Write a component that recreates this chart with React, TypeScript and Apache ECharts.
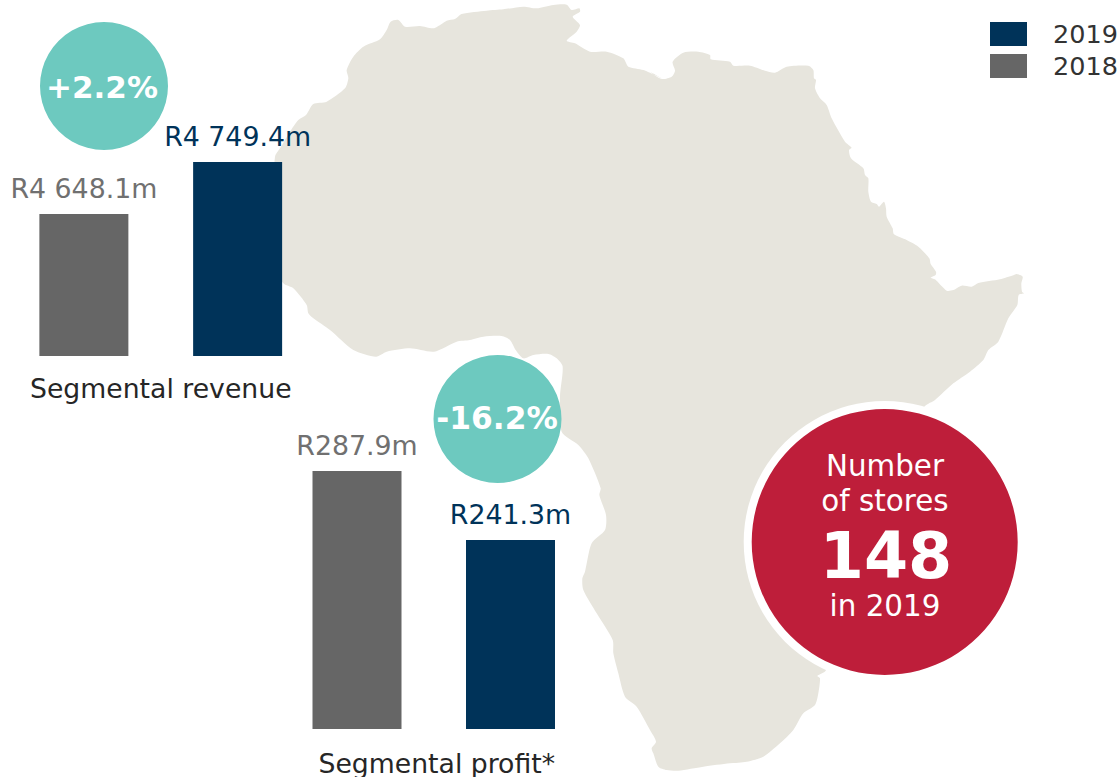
import React, { useEffect, useRef } from "react";
import * as echarts from "echarts";

const revenueCategories = ["2018", "2019"];
const revenue2018 = [4648.1, null];
const revenue2019 = [null, 4749.4];
const revenueLabels = ["R4 648.1m", "R4 749.4m"];
const profitCategories = ["2018", "2019"];
const profit2018 = [287.9, null];
const profit2019 = [null, 241.3];
const profitLabels = ["R287.9m", "R241.3m"];
const legendNames = ["2019", "2018"];
const growthTexts = ["+2.2%", "-16.2%"];
const storeTexts = ["Number", "of stores", "148", "in 2019"];
const axisNames = ["Segmental revenue", "Segmental profit*"];

const NAVY = "#003359";
const GREY = "#666666";
const GREY_LABEL = "#707070";
const TEAL = "#6DC9BF";
const RED = "#BE1E3A";
const LAND = "#E7E5DD";
const FONT = "'DejaVu Sans', Verdana, sans-serif";

// Outline of the continent (decorative backdrop), traced as stretches of coast.
const coastNorthWest = [[15,470],[30,445],[60,395],[85,360],[108,345],[130,312],[170,305],[225,265],[235,235],[230,210],[250,170],[280,140],[330,118],[350,90],[362,65],[385,60],[405,80],[450,78],[490,85],[515,72],[530,62],[555,57],[575,42],[650,32],[700,28],[760,20],[800,25],[850,15],[890,14],[905,30],[928,25],[930,35],[908,50],[930,75],[920,95],[890,122],[915,130],[960,155],[1010,155],[1060,175],[1075,200],[1120,210],[1175,235]];
const coastNorthEast = [[0,215],[35,237],[65,230],[75,212],[68,185],[100,158],[145,155],[180,165],[182,178],[240,185],[250,197],[300,197],[345,212],[375,218],[410,200],[475,197],[490,210],[492,235],[498,240],[495,265],[510,295],[530,315],[545,355],[585,425],[605,443],[597,450],[603,475],[640,505],[645,525],[655,535],[655,575],[663,605],[680,612],[687,620],[702,605],[708,625],[710,650],[728,685],[732,703],[770,720],[805,740],[838,775],[842,792],[858,815],[857,825],[842,833],[855,838],[890,872],[910,870],[935,857],[965,860],[985,849],[1050,838],[1090,826],[1100,822],[1118,830],[1114,850],[1116,875],[1122,880],[1106,885],[1102,915],[1075,955],[1045,1025],[1015,1050],[1000,1080],[960,1115],[910,1150],[855,1200]];
const coastSouth = [[1185,78],[1000,300],[850,700],[888,870],[862,888],[870,895],[865,940],[855,975],[820,1000],[790,1050],[750,1090],[700,1130],[650,1145],[600,1150],[520,1160],[445,1172],[410,1170],[385,1160],[370,1120],[365,1105],[378,1085],[360,1050],[320,980],[285,950],[265,880],[250,820],[248,780],[200,700],[160,630],[157,595],[165,575],[185,490],[225,450],[228,405],[208,345],[212,325],[175,235],[145,195],[95,155]];
const coastWest = [[870,1190],[878,1100],[860,1075],[835,1062],[790,1065],[760,1075],[737,1050],[720,1020],[695,1008],[640,1010],[600,1020],[560,1025],[492,1055],[420,1045],[350,1055],[318,1070],[250,1050],[180,990],[130,955],[115,940],[110,915],[70,865],[40,850],[20,800],[10,600]];

const outline = [
  ...coastNorthWest.map(([x, y]) => [270 + x / 3, y / 3]),
  ...coastNorthEast.map(([x, y]) => [650 + x / 3, y / 3]),
  ...coastSouth.map(([x, y]) => [530 + x / 3, 380 + y / 3]),
  ...coastWest.map(([x, y]) => [270 + x / 3, y / 3]),
];

function barSeries(name: string, data: (number | null)[], color: string, labelColor: string, labels: string[], axis: number) {
  return {
    type: "bar",
    name,
    data,
    xAxisIndex: axis,
    yAxisIndex: axis,
    barWidth: 89,
    barGap: "-100%",
    z: 3,
    itemStyle: { color },
    label: {
      show: true,
      position: "top",
      distance: 12,
      color: labelColor,
      fontFamily: FONT,
      fontSize: 26.8,
      formatter: (p: any) => labels[p.dataIndex],
    },
  };
}

function hiddenX(axisData: string[], name: string, gridIndex: number, nameGap: number, padding: number[]) {
  return {
    type: "category",
    gridIndex,
    data: axisData,
    name,
    nameLocation: "middle",
    nameGap,
    nameTextStyle: { color: "#262626", fontFamily: FONT, fontSize: 26.7, lineHeight: 26, padding },
    axisLine: { show: false },
    axisTick: { show: false },
    axisLabel: { show: false },
    splitLine: { show: false },
  };
}

function hiddenY(min: number, max: number, gridIndex: number) {
  return { type: "value", gridIndex, min, max, show: false, splitLine: { show: false } };
}

function caption(text: string, x: number, y: number, fontSize: number, fontWeight: string | number = "normal", lineHeight?: number) {
  return {
    type: "text",
    z: 6,
    style: { text, x, y, fontSize, fontWeight, lineHeight: lineHeight ?? fontSize, fontFamily: FONT, fill: "#FFFFFF", textAlign: "center", textVerticalAlign: "middle" },
  };
}

export default function App() {
  const ref = useRef<HTMLDivElement>(null);
  useEffect(() => {
    document.body.style.margin = "0";
    const chart = echarts.init(ref.current!, undefined, { renderer: "svg" });
    chart.setOption({
      animation: false,
      backgroundColor: "#FFFFFF",
      legend: {
        data: legendNames,
        orient: "vertical",
        left: 990,
        top: 21,
        padding: 0,
        itemWidth: 37,
        itemHeight: 24,
        itemGap: 6,
        icon: "rect",
        selectedMode: false,
        textStyle: { color: "#333333", fontFamily: FONT, fontSize: 25.5, lineHeight: 24, padding: [0, 0, 0, 21] },
      },
      grid: [
        { left: 7, width: 307.5, top: 100, height: 256, outerBoundsMode: "none" },
        { left: 280.25, width: 307, top: 450, height: 279, outerBoundsMode: "none" },
      ],
      xAxis: [
        hiddenX(revenueCategories, axisNames[0], 0, 19, [0, 0, 0, 0]),
        hiddenX(profitCategories, axisNames[1], 1, 21, [0, 0, 0, 6]),
      ],
      yAxis: [hiddenY(4371.5, 4870.2, 0), hiddenY(113.7, 302.1, 1)],
      series: [
        barSeries("2018", revenue2018, GREY, GREY_LABEL, revenueLabels, 0),
        barSeries("2019", revenue2019, NAVY, NAVY, revenueLabels, 0),
        barSeries("2018", profit2018, GREY, GREY_LABEL, profitLabels, 1),
        barSeries("2019", profit2019, NAVY, NAVY, profitLabels, 1),
      ],
      graphic: {
        elements: [
          { type: "polygon", z: 0, shape: { points: outline, smooth: 0.25 }, style: { fill: LAND } },
          { type: "circle", z: 4, shape: { cx: 104, cy: 86, r: 64 }, style: { fill: TEAL } },
          { type: "circle", z: 4, shape: { cx: 497.5, cy: 419, r: 64 }, style: { fill: TEAL } },
          { type: "circle", z: 4, shape: { cx: 884.7, cy: 542, r: 141 }, style: { fill: "#FFFFFF" } },
          { type: "circle", z: 5, shape: { cx: 884.7, cy: 542, r: 133 }, style: { fill: RED } },
          caption(growthTexts[0], 102, 87, 31, "bold"),
          caption(growthTexts[1], 497, 418, 31.3, "bold"),
          caption(storeTexts[0], 885, 466, 29.4),
          caption(storeTexts[1], 885, 501, 29.4),
          caption(storeTexts[2], 886, 556, 63.5, "bold", 54),
          caption(storeTexts[3], 885, 606, 29.4),
        ],
      },
    });
    return () => chart.dispose();
  }, []);
  return <div ref={ref} style={{ width: 1120, height: 777 }} />;
}
